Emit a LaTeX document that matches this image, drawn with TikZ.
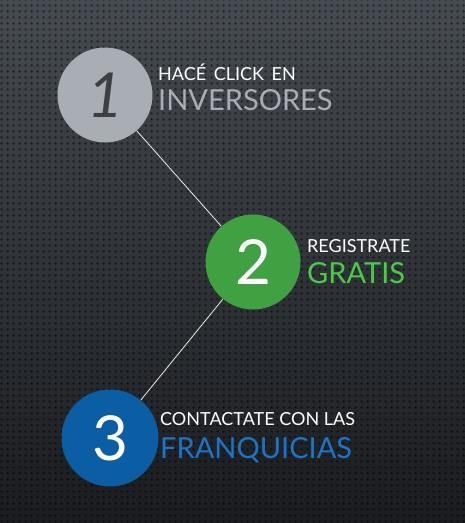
\documentclass[tikz,border=0pt]{standalone}
\usepackage{fontspec}
\setmainfont{Lato}
\usetikzlibrary{patterns}

\definecolor{fondoA}{HTML}{464B52}
\definecolor{fondoB}{HTML}{1A1C1F}
\definecolor{gris}{HTML}{A9ADB4}
\definecolor{grisOsc}{HTML}{3C4045}
\definecolor{verde}{HTML}{3FA142}
\definecolor{verdeTxt}{HTML}{4CCB48}
\definecolor{azul}{HTML}{0B5EA4}
\definecolor{azulTxt}{HTML}{1C74C6}

% textura de puntos del fondo
\pgfdeclarepatternformonly{carbono}{\pgfpointorigin}{\pgfpoint{6pt}{6pt}}{\pgfpoint{6pt}{6pt}}{%
  \pgfpathcircle{\pgfpoint{3pt}{3pt}}{1.6pt}\pgfusepath{fill}}

\tikzset{
  paso/.style={circle, minimum size=95pt, inner sep=0pt, font=\fontsize{62}{62}\selectfont},
  titulo/.style={anchor=base west, inner sep=0pt, text=white, font=\fontsize{18}{18}\selectfont},
  destacado/.style={anchor=base west, inner sep=0pt, font=\fontsize{29}{29}\selectfont},
}

\begin{document}
\begin{tikzpicture}[x=1pt, y=-1pt]
  % fondo oscuro con degradado
  \fill[top color=fondoA, bottom color=fondoB] (0,0) rectangle (465,523);
  \fill[pattern=carbono, pattern color=black, opacity=0.45] (0,0) rectangle (465,523);
  \useasboundingbox (0,0) rectangle (465,523);

  % los tres pasos
  \node[paso, fill=gris, text=grisOsc] (uno)  at (105,95)  {\textit{1}};
  \node[paso, fill=verde, text=white]  (dos)  at (253,262) {2};
  \node[paso, fill=azul, text=white, minimum size=97pt] (tres) at (110,438) {3};

  % lineas de union
  \draw[white, line width=0.7pt] (uno) -- (dos);
  \draw[white, line width=0.7pt] (dos) -- (tres);

  % textos
  \node[titulo]                  (t1) at (158,80)  {HACÉ\, CLICK\, EN};
  \node[destacado, text=gris]    (d1) at (158,110) {INVERSORES};
  \node[titulo]                  (t2) at (307,252) {REGISTRATE};
  \node[destacado, text=verdeTxt] (d2) at (307,283) {GRATIS};
  \node[titulo]                  (t3) at (160,425) {CONTACTATE CON LAS};
  \node[destacado, text=azulTxt] (d3) at (160,458) {FRANQUICIAS};
\end{tikzpicture}
\end{document}
